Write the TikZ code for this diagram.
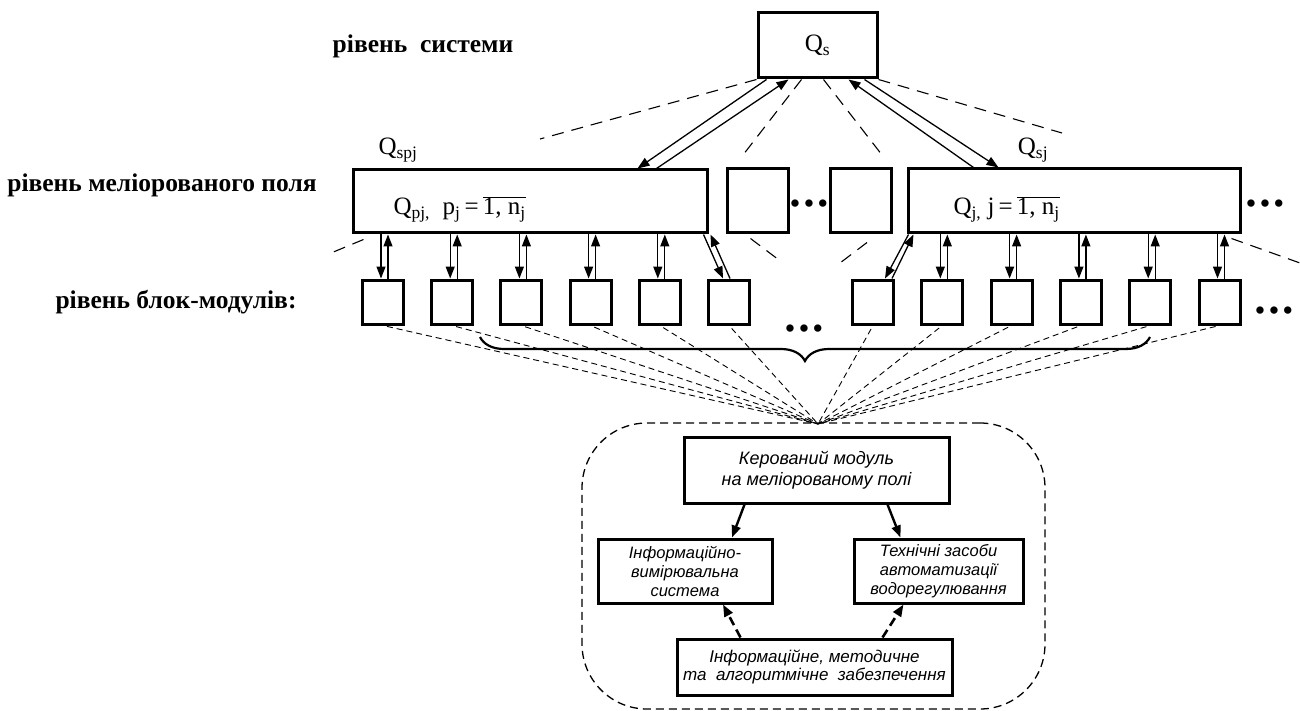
\documentclass[tikz,border=0pt]{standalone}
\usepackage{fontspec}
\setmainfont{Liberation Serif}
\newfontfamily\sansf{Liberation Sans}
\usetikzlibrary{arrows.meta,decorations.pathreplacing}

\begin{document}
\begin{tikzpicture}[
		x = 1pt, y = -1pt, % one unit = one pixel of the sketch
		> = {Triangle[length=12pt,width=9pt]}, % arrow head style
		box/.style = {draw, line width=3pt, inner sep=0pt},
		modbox/.style = {box, minimum width=41pt, minimum height=44pt},
		link/.style = {->, line width=1.3pt},
		cone/.style = {dash pattern=on 12pt off 8pt, line width=1.1pt},
		fan/.style = {dash pattern=on 6pt off 4pt, line width=0.9pt, shorten <=4pt},
		level/.style = {font=\fontsize{25.5}{30}\selectfont\bfseries},
		qfont/.style = {font=\fontsize{25}{30}\selectfont},
		dots/.style = {font=\fontsize{27}{28}\selectfont\bfseries},
		block/.style = {box, align=center, font=\sansf\itshape\fontsize{16.5}{19}\selectfont}
		]
		
		% canvas
		\fill[white] (0,0) rectangle (1300,711);
		\useasboundingbox (0,0) rectangle (1300,711);
		
		% level names
		\node[level] (lv1) at (423,46) {рівень\ \ системи};
		\node[level] (lv2) at (162,185) {рівень меліорованого поля};
		\node[level] (lv3) at (176,302) {рівень блок-модулів:};
		
		% system and fields
		\node[box, qfont, minimum width=119pt, minimum height=65pt] (qs) at (817.5,45.5) {Q\textsubscript{s}};
		\node[box, minimum width=354pt, minimum height=63pt] (f1) at (530,201.5) {};
		\node[qfont, anchor=base west] (f1t) at (390,215) {Q\textsubscript{pj,}\ \ p\textsubscript{j}\,=\,$\overline{\hbox{1, n\textsubscript{j}}}$};
		\node[box, minimum width=61pt, minimum height=64pt] (e1) at (757.5,201) {};
		\node[box, minimum width=61pt, minimum height=64pt] (e2) at (860.5,201) {};
		\node[dots] (d1) at (809,206) {\textbullet\,\textbullet\,\textbullet};
		\node[box, minimum width=332pt, minimum height=64pt] (f2) at (1074,201) {};
		\node[qfont, anchor=base west] (f2t) at (950,215) {Q\textsubscript{j,}\ j\,=\,$\overline{\hbox{1, n\textsubscript{j}}}$};
		\node[dots] (d2) at (1265,206) {\textbullet\,\textbullet\,\textbullet};
		\node[qfont] (lq1) at (398,150) {Q\textsubscript{spj}};
		\node[qfont] (lq2) at (1033,150) {Q\textsubscript{sj}};
		
		% block-modules
		\foreach \i in {1,...,6} {
			\node[modbox] (l\i) at ({383+69.2*(\i-1)},302) {};
			\node[modbox] (r\i) at ({873+69.3*(\i-1)},302) {};
		}
		\node[dots] (d3) at (804,331) {\textbullet\,\textbullet\,\textbullet};
		\node[dots] (d4) at (1274,313) {\textbullet\,\textbullet\,\textbullet};
		
		% controlled module
		\node[draw, dash pattern=on 8pt off 5pt, line width=1.3pt, rounded corners=65pt,
		minimum width=463pt, minimum height=286pt] (cl) at (813.5,566) {};
		\node[block, font=\sansf\itshape\fontsize{18}{20.5}\selectfont,
		minimum width=265pt, minimum height=66pt] (km) at (816.5,470) {Керований модуль\\на меліорованому полі};
		\node[block, minimum width=174pt, minimum height=64pt] (ivs) at (685,571) {Інформаційно-\\вимірювальна\\система};
		\node[block, minimum width=169pt, minimum height=64pt] (tz) at (938.5,571) {Технічні засоби\\автоматизації\\водорегулювання};
		\node[block, font=\sansf\itshape\fontsize{17}{18.5}\selectfont,
		minimum width=275pt, minimum height=56pt] (zab) at (814.5,667) {Інформаційне, методичне\\та\ \ алгоритмічне\ \ забезпечення};
		
		% free ends
		\coordinate (hub) at (818,424);
		\coordinate (c1) at (540,139);
		\coordinate (c2) at (743,155);
		\coordinate (c3) at (882,155);
		\coordinate (c4) at (1062,133);
		\coordinate (c5) at (331,253);
		\coordinate (c6) at (1300,263);
		\coordinate (c7) at (779,260);
		\coordinate (c8) at (840,263);
		\coordinate (b1) at (480,337);
		\coordinate (b2) at (1150,337);
		
		% system <-> fields
		\draw[link] ([xshift=10pt]qs.south west) -- ([xshift=-71pt]f1.north east);
		\draw[link] ([xshift=-52pt]f1.north east) -- ([xshift=32pt]qs.south west);
		\draw[link] ([xshift=67pt]f2.north west) -- ([xshift=-30pt]qs.south east);
		\draw[link] ([xshift=-14pt]qs.south east) -- ([xshift=92pt]f2.north west);
		
		\draw[cone] (qs.south west) -- (c1);
		\draw[cone] ([xshift=45pt]qs.south west) -- (c2);
		\draw[cone] ([xshift=67pt]qs.south west) -- (c3);
		\draw[cone] (qs.south east) -- (c4);
		\draw[cone] ([xshift=12pt,yshift=-5pt]f1.south west) -- (c5);
		\draw[cone] ([xshift=-10pt,yshift=-4pt]f2.south east) -- (c6);
		\draw[cone] ([xshift=-7pt,yshift=-4pt]e1.south) -- (c7);
		\draw[cone] ([xshift=6.5pt,yshift=-8pt]e2.south) -- (c8);
		
		% fields <-> block-modules
		\foreach \i in {1,...,5} {
			\draw[link] ([xshift=-2pt]l\i.north |- f1.south) -- ([xshift=-2pt]l\i.north);
			\draw[link] ([xshift=5pt]l\i.north) -- ([xshift=5pt]l\i.north |- f1.south);
		}
		\foreach \i in {2,...,6} {
			\draw[link] ([xshift=-2pt]r\i.north |- f2.south) -- ([xshift=-2pt]r\i.north);
			\draw[link] ([xshift=5pt]r\i.north) -- ([xshift=5pt]r\i.north |- f2.south);
		}
		\draw[link] ([xshift=-5pt]f1.south east) -- ([xshift=-6pt]l6.north);
		\draw[link] ([xshift=1pt]l6.north) -- ([xshift=2pt]f1.south east);
		\draw[link] ([xshift=2pt]f2.south west) -- ([xshift=12pt]r1.north);
		\draw[link] ([xshift=19pt]r1.north) -- ([xshift=7pt]f2.south west);
		
		% block-modules -> controlled module
		\foreach \i in {1,...,6} {
			\draw[fan] (l\i.south) -- (hub);
			\draw[fan] (r\i.south) -- (hub);
		}
		\draw[line width=2.2pt, decorate,
		decoration={brace, mirror, amplitude=24pt, aspect=0.485}] (b1) -- (b2);
		
		% inside the module
		\draw[->, line width=2.4pt] ([xshift=62pt]km.south west) -- ([xshift=47pt]ivs.north);
		\draw[->, line width=2.4pt] ([xshift=-63pt]km.south east) -- ([xshift=-38pt]tz.north);
		\draw[->, line width=2.6pt, dash pattern=on 9pt off 5pt] ([xshift=65pt]zab.north west) -- ([xshift=38pt]ivs.south);
		\draw[->, line width=2.6pt, dash pattern=on 9pt off 5pt] ([xshift=-71pt]zab.north east) -- ([xshift=-35pt]tz.south);
		
	\end{tikzpicture}
\end{document}
